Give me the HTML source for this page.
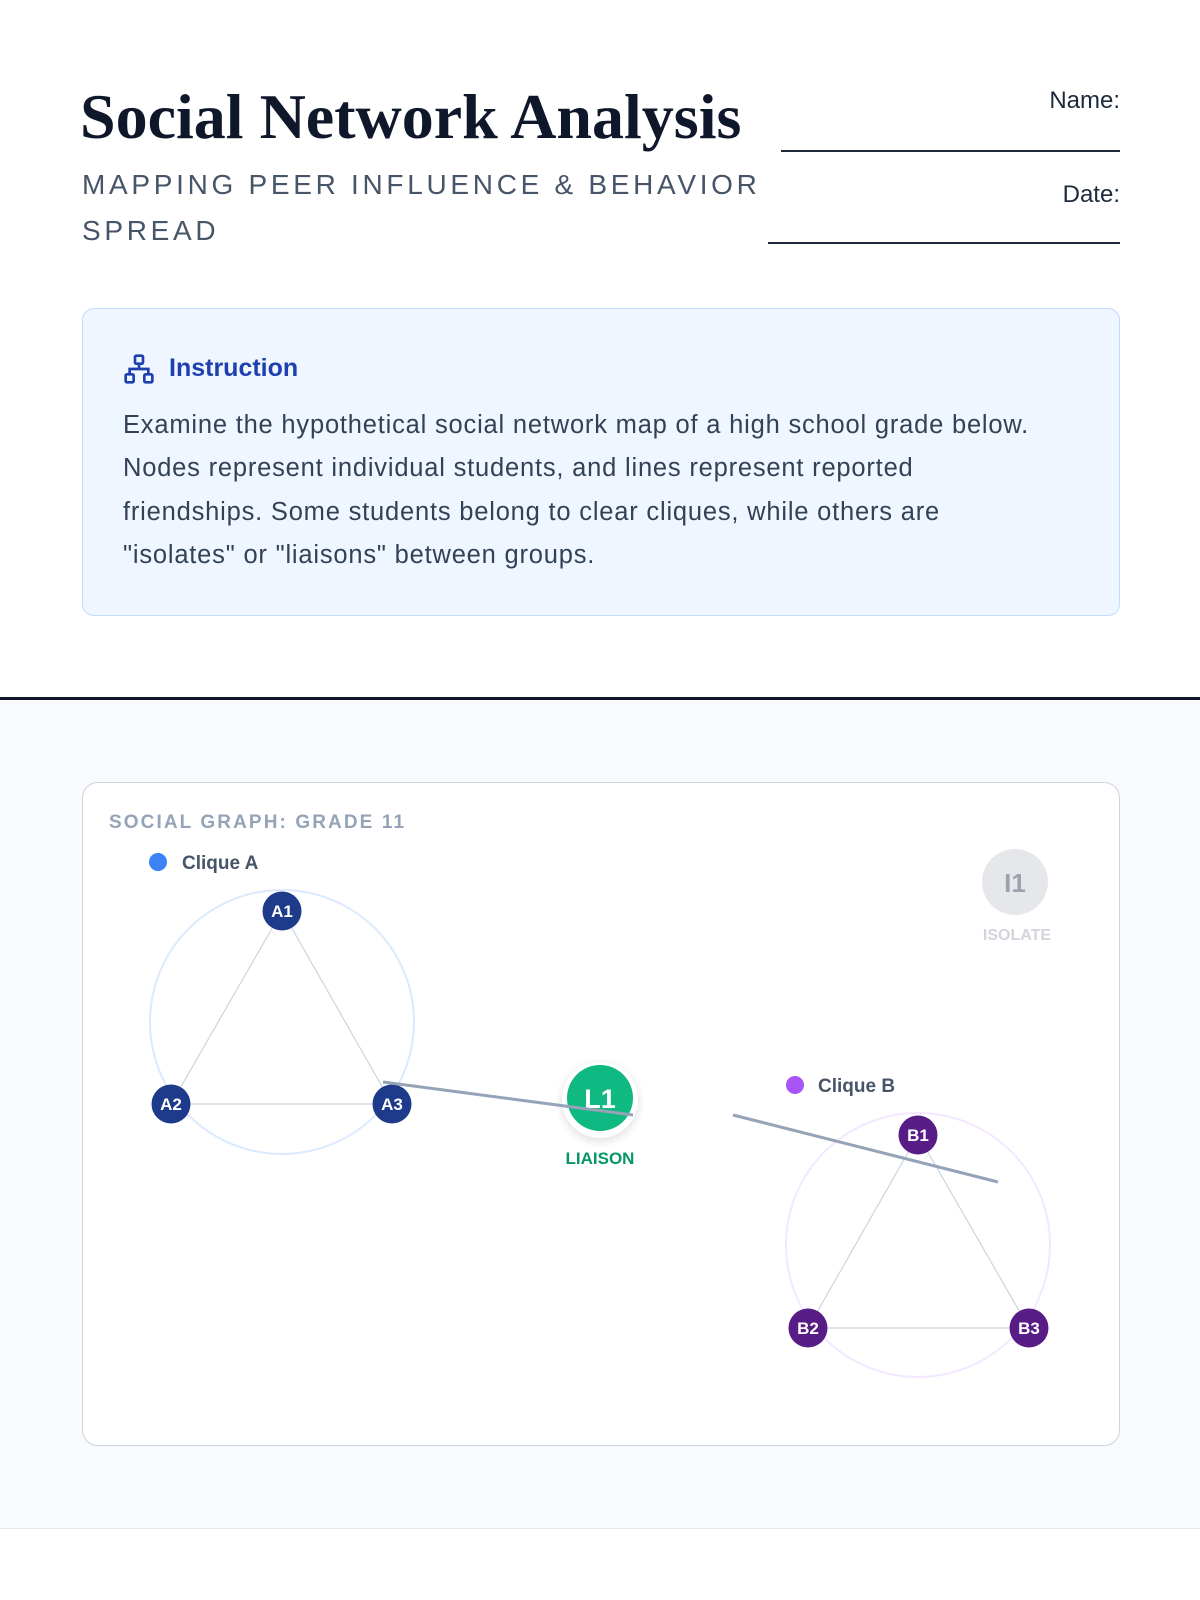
<!DOCTYPE html>
<html><head><meta charset="utf-8">
<style>
*{margin:0;padding:0;box-sizing:border-box}
body{width:1200px;height:1600px;background:#fff;position:relative;overflow:hidden;font-family:"Liberation Sans",sans-serif}
.abs{position:absolute}
h1{position:absolute;left:80px;top:80px;font-family:"Liberation Serif",serif;font-weight:bold;font-size:64px;color:#0f172a;letter-spacing:0px;white-space:nowrap}
.sub{position:absolute;left:82px;top:162px;width:780px;font-size:28px;letter-spacing:3.7px;color:#475569;line-height:46px}
.lbl{position:absolute;right:80px;font-size:24px;color:#1e293b}
.ul{position:absolute;right:80px;border-top:2px solid #1e293b}
.box{position:absolute;left:82px;top:308px;width:1038px;height:308px;background:#eff6ff;border:1.5px solid #bfdbfe;border-radius:12px}
.box h2{position:absolute;left:86px;top:45px;font-size:25px;color:#1e40af;font-weight:bold}
.box p{position:absolute;left:40px;top:95px;width:925px;font-size:25.5px;letter-spacing:0.8px;line-height:43.3px;color:#334155}
.band{position:absolute;left:0;top:697px;width:1200px;height:832px;background:#f8fafc;border-top:3px solid #0f172a;border-bottom:1px solid #e2e8f0}
.card{position:absolute;left:82px;top:782px;width:1038px;height:664px;background:#fff;border:1.5px solid #cbd5e1;border-radius:16px}
</style></head><body>
<h1>Social Network Analysis</h1>
<div class="sub">MAPPING PEER INFLUENCE &amp; BEHAVIOR SPREAD</div>
<div class="lbl" style="top:87px">Name:</div>
<div class="ul" style="top:150px;width:339px"></div>
<div class="lbl" style="top:181px">Date:</div>
<div class="ul" style="top:242px;width:352px"></div>
<div class="box">
<svg class="abs" style="left:40px;top:44px" width="32" height="32" viewBox="0 0 24 24" fill="none" stroke="#1e40af" stroke-width="2"><rect x="9" y="2" width="6" height="6" rx="1"/><rect x="2" y="16" width="6" height="6" rx="1"/><rect x="16" y="16" width="6" height="6" rx="1"/><path d="M12 8v4M5 16v-4h14v4"/></svg>
<h2>Instruction</h2>
<p>Examine the hypothetical social network map of a high school grade below. Nodes represent individual students, and lines represent reported friendships. Some students belong to clear cliques, while others are "isolates" or "liaisons" between groups.</p>
</div>
<div class="band"></div>
<div class="card"></div>
<svg class="abs" style="left:0;top:0" width="1200" height="1600" font-family="Liberation Sans, sans-serif">
<text x="109" y="828" font-size="19" font-weight="bold" fill="#94a3b8" letter-spacing="2.1">SOCIAL GRAPH: GRADE 11</text>
<circle cx="158" cy="862" r="9" fill="#3b82f6"/>
<text x="182" y="869" font-size="19" font-weight="bold" fill="#475569">Clique A</text>
<circle cx="282" cy="1022" r="132" fill="none" stroke="#dbeafe" stroke-width="2"/>
<path d="M282 911L171 1104L392 1104Z" fill="none" stroke="#cbd5e1" stroke-width="1.2"/>
<circle cx="795" cy="1085" r="9" fill="#a855f7"/>
<text x="818" y="1092" font-size="19" font-weight="bold" fill="#475569">Clique B</text>
<circle cx="918" cy="1245" r="132" fill="none" stroke="#f3e8ff" stroke-width="2"/>
<path d="M918 1135L808 1328L1029 1328Z" fill="none" stroke="#cbd5e1" stroke-width="1.2"/>
<g font-size="17" font-weight="bold" fill="#fff" text-anchor="middle">
<circle cx="282" cy="911" r="19.5" fill="#1e3a8a"/><text x="282" y="917">A1</text>
<circle cx="171" cy="1104" r="19.5" fill="#1e3a8a"/><text x="171" y="1110">A2</text>
<circle cx="392" cy="1104" r="19.5" fill="#1e3a8a"/><text x="392" y="1110">A3</text>
<circle cx="918" cy="1135" r="19.5" fill="#581c87"/><text x="918" y="1141">B1</text>
<circle cx="808" cy="1328" r="19.5" fill="#581c87"/><text x="808" y="1334">B2</text>
<circle cx="1029" cy="1328" r="19.5" fill="#581c87"/><text x="1029" y="1334">B3</text>
</g>
<circle cx="600" cy="1100" r="38" fill="#fff" opacity="0.9" style="filter:drop-shadow(0 3px 5px rgba(0,0,0,0.15))"/>
<circle cx="600" cy="1098" r="33" fill="#10b981"/>
<text x="600" y="1108" font-size="27" font-weight="bold" fill="#fff" text-anchor="middle">L1</text>
<text x="600" y="1164" font-size="17" font-weight="bold" fill="#059669" text-anchor="middle">LIAISON</text>
<line x1="383" y1="1082" x2="633" y2="1115" stroke="#94a3b8" stroke-width="3"/>
<line x1="733" y1="1115" x2="998" y2="1182" stroke="#94a3b8" stroke-width="3"/>
<circle cx="1015" cy="882" r="33" fill="#e5e7eb"/>
<text x="1015" y="892" font-size="26" font-weight="bold" fill="#9ca3af" text-anchor="middle">I1</text>
<text x="1017" y="940" font-size="16" font-weight="bold" fill="#d1d5db" text-anchor="middle">ISOLATE</text>
</svg>
</body></html>
